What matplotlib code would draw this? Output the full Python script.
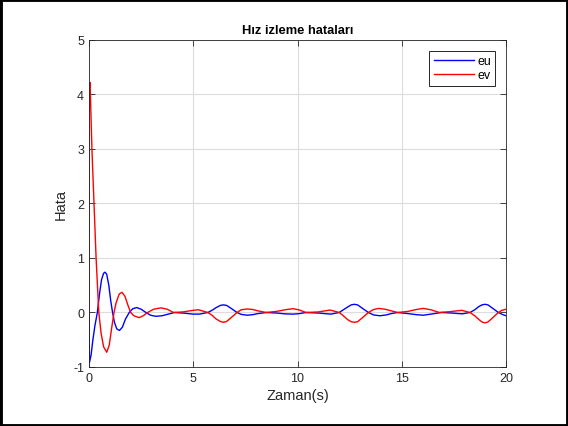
"""
Hiz izleme hatalari (eu, ev) - MATLAB style error plot
"""
import matplotlib
matplotlib.use("Agg")
import matplotlib.pyplot as plt
from matplotlib.patches import Rectangle

# values
t_eu = [0, 0.02, 0.1, 0.18, 0.28, 0.4, 0.5, 0.6, 0.7, 0.77, 0.85, 0.95, 1.04,
        1.13, 1.22, 1.33, 1.46, 1.6, 1.75, 1.93, 2.1, 2.29, 2.5, 2.73, 2.95,
        3.2, 3.5, 3.8, 4.1, 4.5, 5.0, 5.3, 5.7, 5.9, 6.1, 6.3, 6.44, 6.6, 6.8,
        7.1, 7.3, 7.6, 7.85, 8.1, 8.5, 9.0, 9.4, 9.8, 10.1, 10.4, 11.0, 11.6,
        12.0, 12.2, 12.4, 12.58, 12.72, 12.88, 13.1, 13.4, 13.65, 13.95, 14.25,
        14.5, 14.8, 15.3, 15.7, 16.03, 16.4, 16.9, 17.4, 17.9, 18.27, 18.5,
        18.7, 18.85, 18.99, 19.13, 19.35, 19.63, 19.85, 20.0]
eu = [0, -0.92, -0.78, -0.52, -0.25, 0.0, 0.33, 0.6, 0.72, 0.74, 0.7, 0.5, 0.22,
      0.0, -0.18, -0.3, -0.33, -0.27, -0.12, 0.0, 0.07, 0.09, 0.06, 0.0, -0.05,
      -0.07, -0.06, -0.03, 0.0, -0.01, -0.03, -0.03, 0.0, 0.04, 0.09, 0.13,
      0.14, 0.13, 0.08, 0.0, -0.035, -0.05, -0.04, -0.02, 0.0, -0.01, -0.025,
      -0.03, -0.02, 0.0, -0.01, -0.03, 0.0, 0.05, 0.1, 0.14, 0.15, 0.14, 0.08,
      0.0, -0.045, -0.06, -0.045, -0.02, 0.0, -0.02, -0.04, -0.05, -0.03, 0.0,
      -0.01, -0.025, 0.0, 0.05, 0.11, 0.14, 0.15, 0.14, 0.08, 0.0, -0.04, -0.06]

t_ev = [0, 0.01, 0.05, 0.14, 0.24, 0.34, 0.47, 0.58, 0.7, 0.85, 0.97, 1.1, 1.2,
        1.3, 1.45, 1.58, 1.72, 1.87, 2.0, 2.15, 2.4, 2.6, 2.81, 3.1, 3.45, 3.75,
        4.05, 4.5, 5.0, 5.25, 5.7, 5.9, 6.1, 6.3, 6.45, 6.6, 6.8, 7.1, 7.3, 7.6,
        7.85, 8.1, 8.5, 9.0, 9.4, 9.8, 10.1, 10.4, 11.0, 11.56, 12.0, 12.2,
        12.4, 12.58, 12.72, 12.88, 13.1, 13.4, 13.65, 13.9, 14.2, 14.5, 14.8,
        15.3, 15.7, 16.03, 16.4, 16.8, 17.3, 17.87, 18.27, 18.5, 18.7, 18.85,
        18.99, 19.13, 19.35, 19.63, 19.8, 20.0]
ev = [0, 4.1, 4.22, 3.0, 2.0, 1.0, 0.0, -0.38, -0.63, -0.73, -0.6, -0.25, 0.0,
      0.18, 0.34, 0.37, 0.3, 0.13, 0.0, -0.06, -0.095, -0.06, 0.0, 0.06, 0.085,
      0.06, 0.0, 0.01, 0.04, 0.05, 0.0, -0.05, -0.12, -0.165, -0.18, -0.165,
      -0.1, 0.0, 0.05, 0.065, 0.055, 0.03, 0.0, 0.02, 0.05, 0.07, 0.045, 0.0,
      0.01, 0.045, 0.0, -0.06, -0.13, -0.17, -0.18, -0.17, -0.1, 0.0, 0.055,
      0.075, 0.06, 0.03, 0.0, 0.02, 0.055, 0.075, 0.05, 0.0, 0.015, 0.04, 0.0,
      -0.06, -0.13, -0.175, -0.19, -0.175, -0.1, 0.0, 0.04, 0.06]

x_ticks = [0, 5, 10, 15, 20]
y_ticks = [-1, 0, 1, 2, 3, 4, 5]

plt.rcParams['font.family'] = ['Liberation Sans', 'DejaVu Sans']
plt.rcParams['axes.unicode_minus'] = False

fig = plt.figure(figsize=(5.68, 4.27), dpi=100)
ax = fig.add_axes([0.1567, 0.1382, 0.7342, 0.7658])

ax.plot(t_eu, eu, color=(0, 0, 1), lw=1.0, label="eu")
ax.plot(t_ev, ev, color=(1, 0, 0), lw=1.0, label="ev")

ax.set_xlim(0, 20)
ax.set_ylim(-1, 5)
ax.set_xticks(x_ticks)
ax.set_yticks(y_ticks)

ax.grid(True, color="#dcdcdc", lw=0.8)
ax.set_axisbelow(True)
ax.tick_params(direction="in", length=4, width=0.6, colors="#262626",
               labelsize=9, top=True, right=True)
for s in ax.spines.values():
    s.set_color("#262626")
    s.set_linewidth(0.6)

ax.set_title("Hız izleme hataları", fontsize=9.3, fontweight="bold", pad=5)
ax.set_xlabel("Zaman(s)", fontsize=10.5, color="#262626", labelpad=3)
ax.set_ylabel("Hata", fontsize=10.5, color="#262626", labelpad=4)

leg = ax.legend(loc="upper right", fontsize=9, fancybox=False, framealpha=1,
                edgecolor="#262626", handlelength=3.2, handletextpad=0.3,
                borderpad=0.35, labelspacing=0.2, borderaxespad=0.85)
leg.get_frame().set_linewidth(0.7)

# black frame round the whole figure
fig.patches.append(Rectangle((0, 0), 1, 1, transform=fig.transFigure,
                             fill=False, edgecolor="black", lw=3.5))

fig.savefig("out.png", dpi=100)
